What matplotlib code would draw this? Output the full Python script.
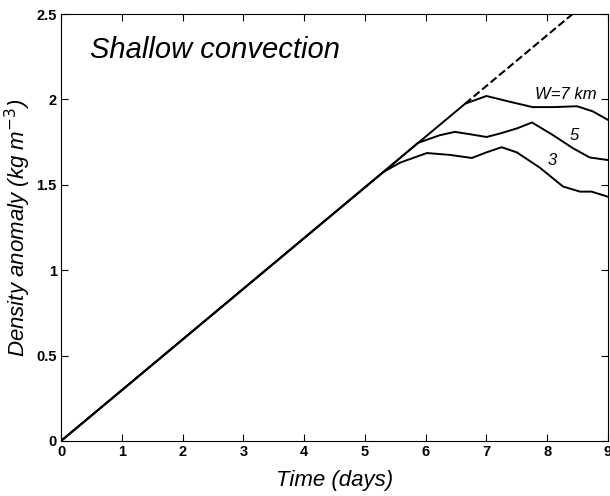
import matplotlib
matplotlib.use("Agg")
import matplotlib.pyplot as plt

plt.rcParams['font.family'] = ['Liberation Sans', 'DejaVu Sans']

# shared linear growth (no convection)
slope = 0.297
t_dash = [6.65, 8.42]
rho_dash = [slope * t for t in t_dash]

# W = 7 km
t7 = [0, 6.65, 7.0, 7.4, 7.76, 8.1, 8.49, 8.75, 9.0]
rho7 = [0, 1.975, 2.02, 1.985, 1.955, 1.955, 1.96, 1.93, 1.88]

# W = 5 km
t5 = [0, 5.5, 5.87, 6.23, 6.48, 6.75, 7.0, 7.22, 7.5, 7.75, 8.1, 8.42, 8.7, 9.0]
rho5 = [0, 1.633, 1.745, 1.79, 1.81, 1.795, 1.78, 1.80, 1.83, 1.865, 1.79, 1.715, 1.66, 1.645]

# W = 3 km
t3 = [0, 5.3, 5.58, 6.02, 6.4, 6.76, 7.0, 7.25, 7.5, 7.88, 8.26, 8.54, 8.73, 9.0]
rho3 = [0, 1.574, 1.63, 1.686, 1.675, 1.657, 1.69, 1.72, 1.69, 1.60, 1.49, 1.46, 1.46, 1.43]

fig = plt.figure(figsize=(6.1, 4.96), dpi=100)
ax = fig.add_axes([0.1, 0.111, 0.8967, 0.8607])

ax.plot(t_dash, rho_dash, 'k--', lw=1.5)
ax.plot(t7, rho7, 'k-', lw=1.4)
ax.plot(t5, rho5, 'k-', lw=1.4)
ax.plot(t3, rho3, 'k-', lw=1.4)

ax.text(8.31, 2.026, 'W=7 km', style='italic', fontsize=12, ha='center', va='center')
ax.text(8.45, 1.79, '5', style='italic', fontsize=12, ha='center', va='center')
ax.text(8.08, 1.645, '3', style='italic', fontsize=12, ha='center', va='center')
ax.text(0.48, 2.29, 'Shallow convection', style='italic', fontsize=21, ha='left', va='center')

ax.set_xlim(0, 9)
ax.set_ylim(0, 2.5)
ax.set_xticks(range(10))
ax.set_yticks([0, 0.5, 1, 1.5, 2, 2.5])
ax.set_yticklabels(['0', '0.5', '1', '1.5', '2', '2.5'])
ax.tick_params(direction='in', top=True, right=True, length=5, labelsize=10.5, pad=3)
for lab in ax.get_xticklabels() + ax.get_yticklabels():
    lab.set_fontweight('bold')

ax.set_xlabel('Time (days)', style='italic', fontsize=16, labelpad=8)
ax.set_ylabel('Density anomaly (kg m$^{-3}$)', style='italic', fontsize=16)
ax.yaxis.set_label_coords(-0.051, 0.5)

fig.savefig('out.png', dpi=100)
